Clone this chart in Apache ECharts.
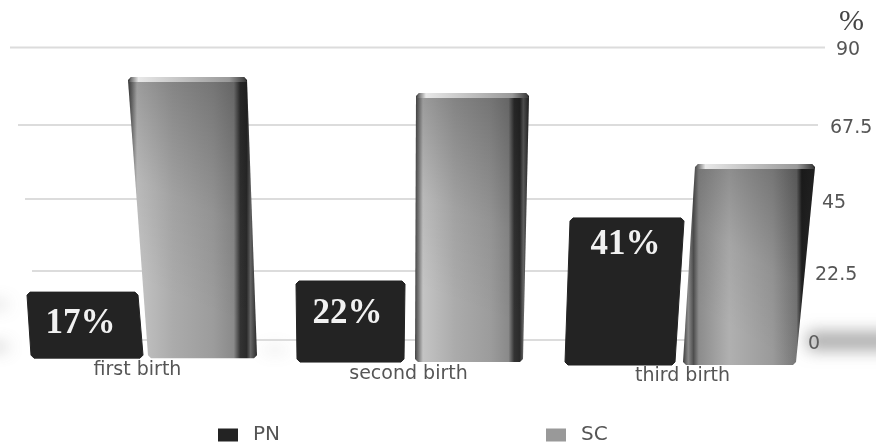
<!DOCTYPE html>
<html>
<head>
<meta charset="utf-8">
<style>html,body{margin:0;padding:0;background:#fff}#c{width:876px;height:443px}</style>
<script src="https://cdn.jsdelivr.net/npm/echarts@6/dist/echarts.min.js"></script>
</head>
<body>
<div id="c"></div>
<script>
const categories = ['first birth', 'second birth', 'third birth'];
const pnValues = [15.3, 18.7, 38];
const scValues = [81.1, 76.2, 54.5];
const pnLabels = ['17%', '22%', '41%'];
const baseValues = [-4.9, -6.1, -7];
const tickValues = [0, 22.5, 45, 67.5, 90];

// perspective of the picture, in pixels relative to each category centre: [topLeft, topRight, bottomLeft, bottomRight]
const pnShape = [[-110.5, 0.5, -106.5, 5.5], [-116.5, -7.5, -115.5, -8.5], [-117.5, -3.5, -122.5, -12.5]];
const scShape = [[-9.5, 109.5, 10.5, 119.5], [3.5, 116.5, 2.5, 110.5], [7.5, 127.5, -4.5, 108.5]];
const pnLabelAt = [[-57, 32], [-65, 33], [-62, 27]];
const gridInset = {90: [127.5, 137.5, -0.5], 67.5: [119.5, 130.5, 3.5], 45: [112.5, 124.5, 4], 22.5: [105.5, 117.5, 2.5], 0: [97.5, 110.5, -2]};
const labelStyle = {90: [4, 28], 67.5: [13, 22], 45: [16, 14], 22.5: [13, 7], 0: [4, 0]};
// soft floor shadows: [category, dx, dy, width, height, opacity]
const floorShadows = [[0, -175, -40, 45, 5, 0.35], [0, -175, 2, 45, 6, 0.45], [2, 120, -10, 90, 18, 0.6], [0, 125, 5, 25, 5, 0.2]];

const G = echarts.graphic;
function chamfer(tl, tr, br, bl, c) {
  return [[tl[0] + c, tl[1]], [tr[0] - c, tr[1]], [tr[0], tr[1] + c], [br[0], br[1] - c], [br[0] - c, br[1]], [bl[0] + c, bl[1]], [bl[0], bl[1] - c], [tl[0], tl[1] + c]];
}
function corners(api, shape) {
  const i = api.value(0);
  const top = api.coord([i, api.value(1)]);
  const base = api.coord([i, baseValues[i]]);
  const s = shape[i];
  return {i, top, tl: [top[0] + s[0], top[1]], tr: [top[0] + s[1], top[1]], bl: [top[0] + s[2], base[1]], br: [top[0] + s[3], base[1]]};
}
function renderPN(params, api) {
  const c = corners(api, pnShape);
  const at = pnLabelAt[c.i];
  return {type: 'group', children: [
    {type: 'polygon', shape: {points: chamfer(c.tl, c.tr, c.br, c.bl, 3), smooth: 0}, style: {fill: '#232323', stroke: '#232323', lineWidth: 1, lineJoin: 'round'}},
    {type: 'text', style: {text: pnLabels[c.i], x: c.top[0] + at[0], y: c.top[1] + at[1], align: 'center', verticalAlign: 'middle',
      font: 'bold 35px "Liberation Serif"', fill: '#f1f1f1'}}
  ]};
}
function renderSC(params, api) {
  const c = corners(api, scShape);
  const face = chamfer(c.tl, c.tr, c.br, c.bl, 3);
  const steel = c.i === 2
    ? [[0,'#3c3c3c'],[.04,'#8a8a8a'],[.08,'#4e4e4e'],[.12,'#8c8c8c'],[.35,'#b0b0b0'],[.68,'#9a9a9a'],[.86,'#777'],[.9,'#222'],[1,'#2c2c2c']]
    : [[0,'#444'],[.03,'#777'],[.07,'#c4c4c4'],[.35,'#ababab'],[.66,'#9c9c9c'],[.82,'#8a8a8a'],[.87,'#333'],[.92,'#2a2a2a'],[.95,'#666'],[1,'#2a2a2a']];
  return {type: 'group', children: [
    {type: 'polygon', shape: {points: face}, style: {fill: new G.LinearGradient(0, 0, 1, 0, steel.map(s => ({offset: s[0], color: s[1]})))}},
    {type: 'polygon', shape: {points: face}, style: {fill: new G.LinearGradient(0.2, 0.75, 0.9, 0, [
      {offset: 0, color: 'rgba(0,0,0,0)'}, {offset: .4, color: 'rgba(0,0,0,0.06)'}, {offset: 1, color: 'rgba(0,0,0,0.28)'}])}},
    {type: 'polygon', shape: {points: [[c.tl[0] + 3, c.tl[1]], [c.tr[0] - 3, c.tr[1]], [c.tr[0], c.tr[1] + 5], [c.tl[0] + 1, c.tl[1] + 5]]},
      style: {fill: new G.LinearGradient(0, 0, 1, 0, [{offset: 0, color: '#555'}, {offset: .08, color: '#e8e8e8'}, {offset: .5, color: '#bdbdbd'}, {offset: .85, color: '#999'}, {offset: 1, color: '#333'}])}}
  ]};
}
function renderGrid(params, api) {
  const v = api.value(0);
  const g = gridInset[v];
  const l = api.coord([0, v]);
  const r = api.coord([2, v]);
  return {type: 'line', shape: {x1: l[0] - g[0], y1: l[1] + g[2], x2: r[0] + g[1], y2: l[1] + g[2]}, style: {stroke: '#dcdcdc', lineWidth: 2}};
}
function renderFloor(params, api) {
  const f = floorShadows[params.dataIndex];
  const p = api.coord([f[0], 0]);
  const hide = 3000;
  return {type: 'rect', shape: {x: p[0] + f[1] - hide, y: p[1] + f[2], width: f[3], height: f[4]},
    style: {fill: '#888', shadowBlur: 16, shadowOffsetX: hide, shadowColor: 'rgba(110,110,110,' + f[5] + ')'}};
}

const rich = {};
tickValues.forEach((v, i) => {
  const s = labelStyle[v];
  rich['t' + i] = {padding: [s[0], 0, 0, s[1]], fontFamily: 'DejaVu Sans', fontSize: 19, color: '#555'};
});

const chart = echarts.init(document.getElementById('c'), null, {renderer: 'canvas'});
chart.setOption({
  animation: false,
  backgroundColor: '#fff',
  title: {text: '%', left: 834, top: 2, textStyle: {fontFamily: 'Liberation Serif', fontWeight: 'normal', fontSize: 30, color: '#444'}},
  legend: [
    {data: ['PN'], left: 213, top: 420, itemWidth: 20, itemHeight: 13, icon: 'rect',
      textStyle: {fontFamily: 'DejaVu Sans', fontSize: 20, color: '#555', padding: [0, 0, 0, 10]}},
    {data: ['SC'], left: 541, top: 420, itemWidth: 20, itemHeight: 13, icon: 'rect',
      textStyle: {fontFamily: 'DejaVu Sans', fontSize: 20, color: '#555', padding: [0, 0, 0, 10]}}
  ],
  grid: {left: 0, width: 825, top: 48, height: 317},
  xAxis: {type: 'category', data: categories, axisLine: {show: false}, axisTick: {show: false},
    axisLabel: {margin: -2, interval: 0, formatter: (v, i) => '{c' + i + '|' + v + '}',
      rich: {
        c0: {fontFamily: 'DejaVu Sans', fontSize: 19, color: '#555', lineHeight: 14},
        c1: {fontFamily: 'DejaVu Sans', fontSize: 19, color: '#555', lineHeight: 14, padding: [8, 8, 0, 0]},
        c2: {fontFamily: 'DejaVu Sans', fontSize: 19, color: '#555', lineHeight: 14, padding: [12, 10, 0, 0]}
      }}},
  yAxis: {type: 'value', position: 'right', min: -7, max: 90, splitLine: {show: false}, axisLine: {show: false}, axisTick: {show: false},
    axisLabel: {customValues: tickValues, margin: -17, align: 'left',
      formatter: v => '{t' + tickValues.indexOf(v) + '|' + v + '}', rich}},
  series: [
    {type: 'custom', name: 'floor', silent: true, renderItem: renderFloor, data: floorShadows.map(f => [f[0]]), encode: {x: 0}, clip: false, z: 1},
    {type: 'custom', name: 'grid', silent: true, renderItem: renderGrid, data: tickValues.map(v => [v]), encode: {y: 0}, clip: false, z: 2},
    {type: 'custom', name: 'PN', renderItem: renderPN, itemStyle: {color: '#232323'},
      data: pnValues.map((v, i) => [i, v]), encode: {x: 0, y: 1}, clip: false, z: 3},
    {type: 'custom', name: 'SC', renderItem: renderSC, itemStyle: {color: '#999999'},
      data: scValues.map((v, i) => [i, v]), encode: {x: 0, y: 1}, clip: false, z: 3}
  ]
});
</script>
</body>
</html>
